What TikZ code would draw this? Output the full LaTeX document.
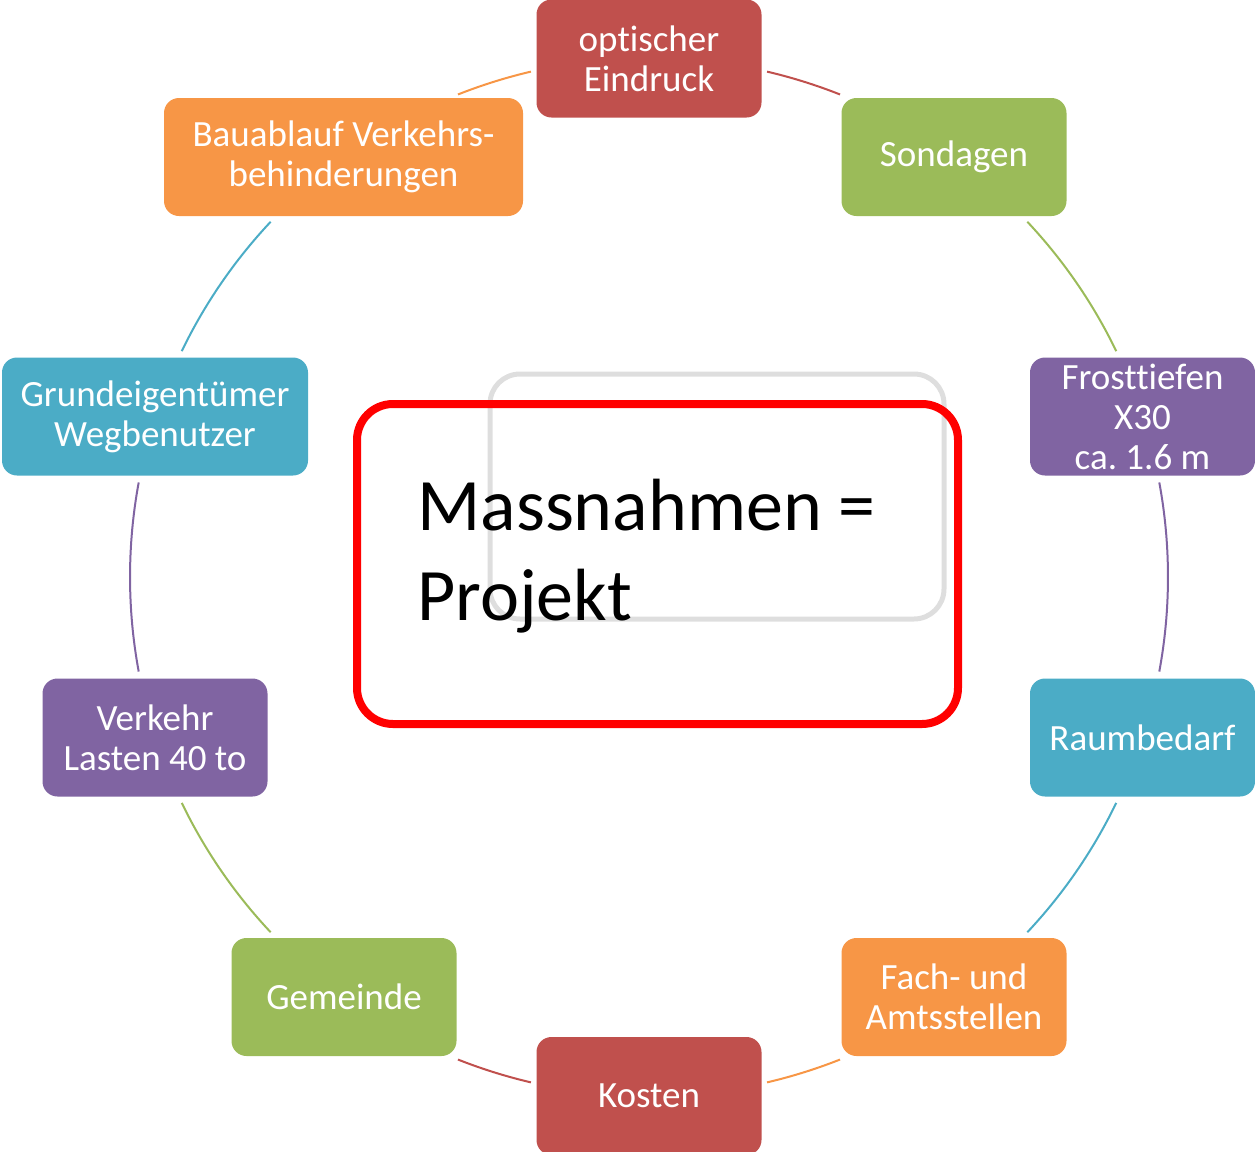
\documentclass[tikz,border=0pt]{standalone}
\usepackage{fontspec}
\setmainfont{Carlito}[Ligatures=CommonOff]
\usetikzlibrary{calc}
\frenchspacing
\definecolor{cred}{HTML}{C0504D}
\definecolor{cgreen}{HTML}{9BBB59}
\definecolor{cpurple}{HTML}{8064A2}
\definecolor{cblue}{HTML}{4BACC6}
\definecolor{corange}{HTML}{F79646}
\definecolor{frame}{HTML}{DEDEDE}
\begin{document}
\begin{tikzpicture}[x=0.5pt,y=-0.5pt,
  box/.style={rounded corners=7.5pt, minimum width=112.5pt, minimum height=59pt,
    inner sep=0pt, text=white, align=center, font=\fontsize{18.5}{20}\selectfont},
  ring/.style={line width=1pt}]
\useasboundingbox (0,0) rectangle (1255,1152);
% centre of the ring
\coordinate (O) at (649,577);

% ring segments, each in the colour of the box it leaves
\draw[ring,cred]    ([shift={(-76.85:519)}]O)  arc[start angle=-76.85, end angle=-68.4,  radius=519];
\draw[ring,cgreen]  ([shift={(-43.2:519)}]O)   arc[start angle=-43.2,  end angle=-25.8,  radius=519];
\draw[ring,cpurple] ([shift={(-10.5:519)}]O)   arc[start angle=-10.5,  end angle=10.5,   radius=519];
\draw[ring,cblue]   ([shift={(25.8:519)}]O)    arc[start angle=25.8,   end angle=43.2,   radius=519];
\draw[ring,corange] ([shift={(68.4:519)}]O)    arc[start angle=68.4,   end angle=76.85,  radius=519];
\draw[ring,cred]    ([shift={(103.15:519)}]O)  arc[start angle=103.15, end angle=111.6,  radius=519];
\draw[ring,cgreen]  ([shift={(136.8:519)}]O)   arc[start angle=136.8,  end angle=154.2,  radius=519];
\draw[ring,cpurple] ([shift={(169.5:519)}]O)   arc[start angle=169.5,  end angle=190.5,  radius=519];
\draw[ring,cblue]   ([shift={(205.8:519)}]O)   arc[start angle=205.8,  end angle=223.2,  radius=519];
\draw[ring,corange] ([shift={(248.4:519)}]O)   arc[start angle=248.4,  end angle=256.85, radius=519];

% boxes around the ring
\node[box,fill=cred]    (opt)   at (649,58.5)   {optischer\\Eindruck};
\node[box,fill=cgreen]  (son)   at (954,157)    {Sondagen};
\node[box,fill=cpurple] (frost) at (1142.5,416.5) {Frosttiefen\\X30\\ca. 1.6 m};
\node[box,fill=cblue]   (raum)  at (1142.5,737.5) {Raumbedarf};
\node[box,fill=corange] (fach)  at (954,997)    {Fach- und\\Amtsstellen};
\node[box,fill=cred]    (kost)  at (649,1096)   {Kosten};
\node[box,fill=cgreen]  (gem)   at (344,997)    {Gemeinde};
\node[box,fill=cpurple] (verk)  at (155,737.5)  {Verkehr\\Lasten 40 to};
\node[box,fill=cblue,minimum width=153pt]   (grund) at (155,416.5) {Grundeigentümer\\Wegbenutzer};
\node[box,fill=corange,minimum width=179.5pt] (bau) at (343.5,157) {Bauablauf Verkehrs-\\behinderungen};

% central frames and title
\draw[frame,line width=2.5pt,rounded corners=15pt] (490,374) rectangle (944,619);
\draw[red,line width=4pt,rounded corners=18pt] (357,404) rectangle (958,724);
\node[anchor=base west,align=left,inner sep=0pt,
      font=\fontsize{37}{45}\selectfont] (title) at (417,620) {Massnahmen =\\Projekt};
\end{tikzpicture}
\end{document}
